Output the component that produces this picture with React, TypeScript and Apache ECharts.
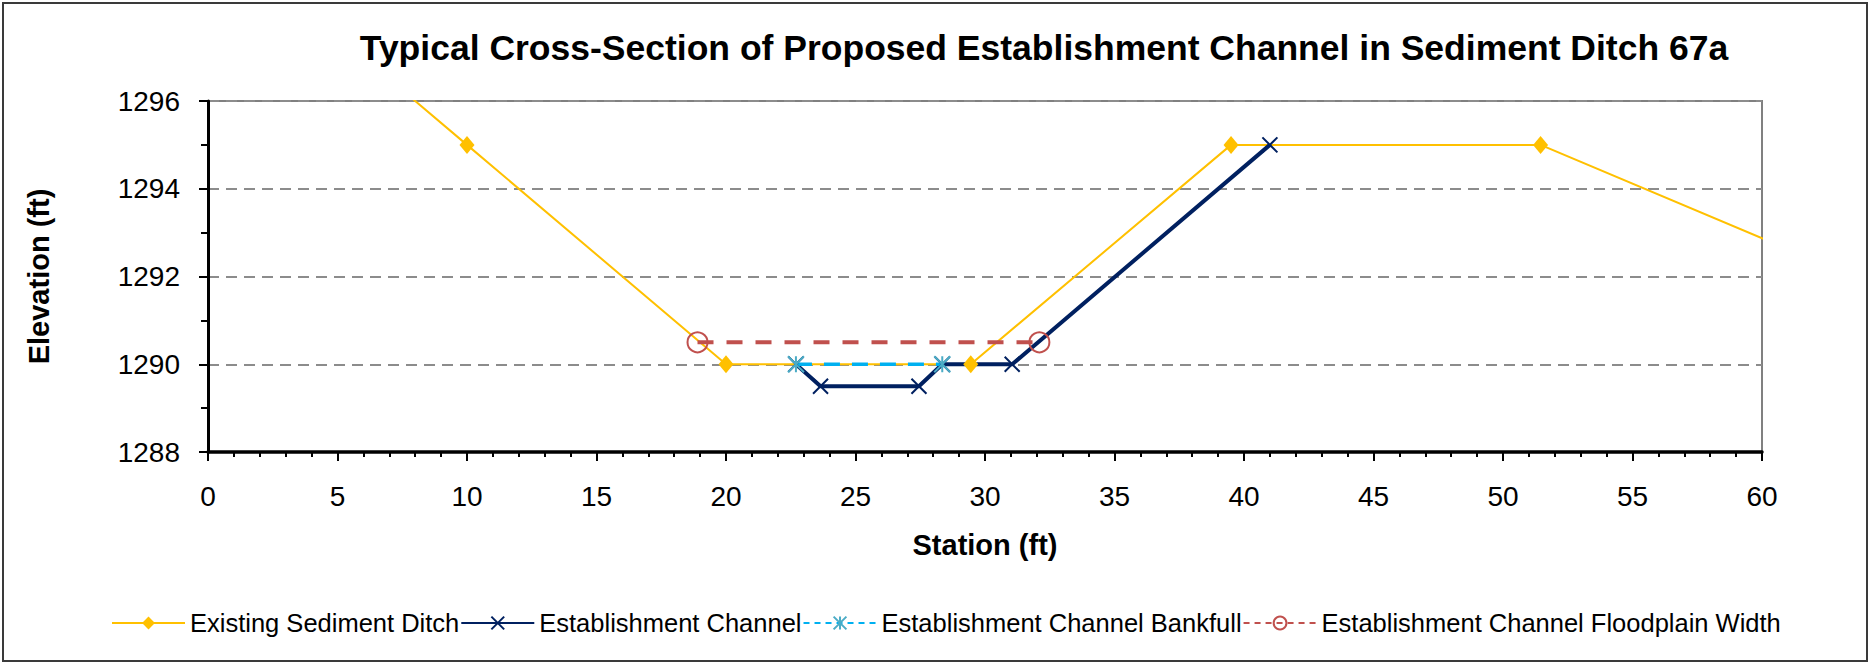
import { useEffect, useRef } from 'react';
import * as echarts from 'echarts';

const titleText = 'Typical Cross-Section of Proposed Establishment Channel in Sediment Ditch 67a';
const xAxisName = 'Station (ft)';
const yAxisName = 'Elevation (ft)';
const seriesNames = [
  'Existing Sediment Ditch',
  'Establishment Channel',
  'Establishment Channel Bankfull',
  'Establishment Channel Floodplain Width',
];

// Existing ditch (first and last points lie outside the plot and are clipped)
const ditchStation = [0, 10, 20, 29.45, 39.5, 51.45, 63.5];
const ditchElevation = [1300, 1295, 1290, 1290, 1295, 1295, 1292];

const channelStation = [22.7, 23.65, 27.45, 28.35, 31.05, 41.0];
const channelElevation = [1290, 1289.5, 1289.5, 1290, 1290, 1295];

const bankfullStation = [22.7, 28.35];
const bankfullElevation = [1290, 1290];

const floodplainStation = [18.9, 32.1];
const floodplainElevation = [1290.5, 1290.5];

const xMin = 0;
const xMax = 60;
const xInterval = 5;
const yMin = 1288;
const yMax = 1296;
const yInterval = 2;

const pair = (xs: number[], ys: number[]) => xs.map((x, i) => [x, ys[i]]);

export default function App() {
  const ref = useRef<HTMLDivElement>(null);
  useEffect(() => {
    document.body.style.margin = '0';
    const chart = echarts.init(ref.current!, null, { renderer: 'svg' });
    const font = '"Liberation Sans", Arial, sans-serif';
    const xPath = 'path://M0,0L10,10M10,0L0,10';
    const starPath = 'path://M5,0L5,10M0,0L10,10M10,0L0,10';
    chart.setOption({
      animation: false,
      backgroundColor: '#ffffff',
      textStyle: { fontFamily: font },
      graphic: [
        {
          type: 'rect',
          silent: true,
          shape: { x: 3, y: 3, width: 1864, height: 658 },
          style: { fill: 'none', stroke: '#3a3a3a', lineWidth: 2 },
        },
        {
          type: 'text',
          x: 1044,
          y: 48,
          style: {
            text: titleText,
            fontSize: 35.5,
            fontWeight: 'bold',
            fontFamily: font,
            fill: '#000',
            align: 'center',
            verticalAlign: 'middle',
          },
        },
      ],
      grid: {
        left: 208,
        right: 109,
        top: 101,
        bottom: 213,
        show: true,
        borderColor: '#808080',
        borderWidth: 2,
      },
      xAxis: {
        type: 'value',
        min: xMin,
        max: xMax,
        interval: xInterval,
        name: xAxisName,
        nameLocation: 'middle',
        nameGap: 78,
        nameTextStyle: { fontSize: 29, fontWeight: 'bold', color: '#000', fontFamily: font },
        axisLine: { onZero: false, lineStyle: { color: '#000', width: 3.5 } },
        axisTick: { show: true, length: 9, lineStyle: { color: '#000', width: 2 } },
        minorTick: { show: true, splitNumber: 5, length: 5, lineStyle: { color: '#000', width: 2 } },
        axisLabel: { fontSize: 28, color: '#000', margin: 30, fontFamily: font },
        splitLine: { show: false },
      },
      yAxis: {
        type: 'value',
        min: yMin,
        max: yMax,
        interval: yInterval,
        name: yAxisName,
        nameLocation: 'middle',
        nameGap: 155,
        nameRotate: 90,
        nameTextStyle: { fontSize: 29, fontWeight: 'bold', color: '#000', fontFamily: font },
        axisLine: { show: true, onZero: false, lineStyle: { color: '#000', width: 3 } },
        axisTick: { show: true, length: 9, lineStyle: { color: '#000', width: 2 } },
        minorTick: { show: true, splitNumber: 2, length: 7, lineStyle: { color: '#000', width: 2 } },
        axisLabel: {
          fontSize: 28,
          color: '#000',
          margin: 28,
          fontFamily: font,
          formatter: (v: number) => String(v),
        },
        splitLine: { show: true, lineStyle: { color: '#8c8c8c', width: 2, type: [11, 7] } },
      },
      legend: {
        left: 106,
        top: 605,
        itemGap: 1,
        itemWidth: 73,
        itemHeight: 16,
        textStyle: { fontSize: 25.5, color: '#000', fontFamily: font },
        lineStyle: { width: 2 },
        data: [
          { name: seriesNames[0] },
          { name: seriesNames[1] },
          { name: seriesNames[2], lineStyle: { type: [6, 5] } },
          { name: seriesNames[3], lineStyle: { type: [6, 5] } },
        ],
      },
      series: [
        {
          name: seriesNames[0],
          type: 'line',
          data: pair(ditchStation, ditchElevation),
          symbol: 'diamond',
          symbolSize: [15, 18],
          lineStyle: { color: '#FFC000', width: 2 },
          itemStyle: { color: '#FFC000' },
        },
        {
          name: seriesNames[1],
          type: 'line',
          data: pair(channelStation, channelElevation),
          symbol: xPath,
          symbolSize: 15,
          lineStyle: { color: '#002060', width: 4 },
          itemStyle: { color: '#002060', borderColor: '#002060', borderWidth: 2 },
        },
        {
          name: seriesNames[2],
          type: 'line',
          data: pair(bankfullStation, bankfullElevation),
          symbol: starPath,
          symbolSize: 16,
          lineStyle: { color: '#00B0F0', width: 3.5, type: [16, 12] },
          itemStyle: { color: '#4BACC6', borderColor: '#4BACC6', borderWidth: 2 },
        },
        {
          name: seriesNames[3],
          type: 'line',
          data: pair(floodplainStation, floodplainElevation),
          symbol: 'circle',
          symbolSize: 20,
          lineStyle: { color: '#C0504D', width: 4, type: [16, 13] },
          itemStyle: { color: 'rgba(0,0,0,0)', borderColor: '#C0504D', borderWidth: 2 },
        },
      ],
    });
    return () => chart.dispose();
  }, []);
  return <div ref={ref} style={{ width: 1871, height: 665 }} />;
}
